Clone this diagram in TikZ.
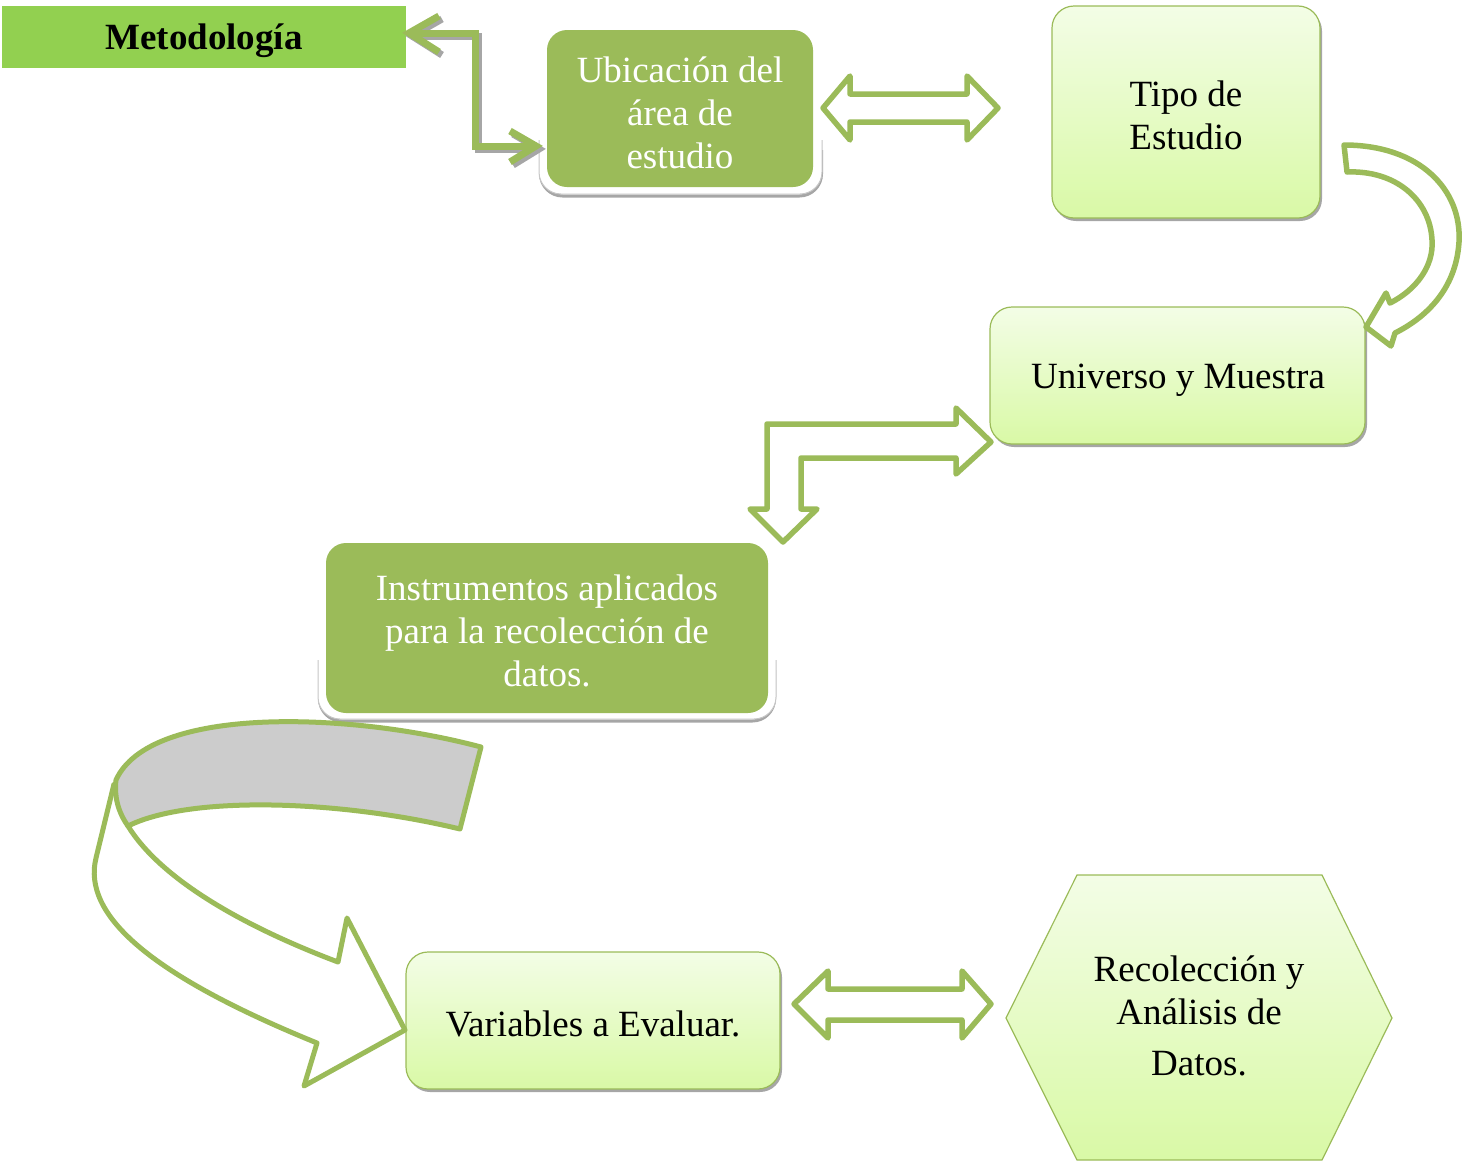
\documentclass[tikz,border=0pt]{standalone}
\usepackage{fontspec}
\setmainfont{Liberation Serif}
\usetikzlibrary{shadows}
\definecolor{olive}{HTML}{9BBB59}
\definecolor{brightgreen}{HTML}{92D050}
\definecolor{lgtop}{HTML}{F3FDE6}
\definecolor{lgbot}{HTML}{D9F9A6}
\definecolor{shadowgray}{HTML}{A6A6A6}
\definecolor{bandgray}{HTML}{CCCCCC}
\begin{document}
\begin{tikzpicture}[x=1pt,y=-1pt, font=\fontsize{37}{43}\selectfont,
  lightbox/.style={rounded corners=22pt, draw=olive, line width=1.2pt, top color=lgtop, bottom color=lgbot,
    inner sep=0pt, drop shadow={shadow xshift=2pt, shadow yshift=-3pt, fill=shadowgray, opacity=1}},
  darkbox/.style={rounded corners=20pt, fill=olive, inner sep=0pt},
  backline/.style={rounded corners=22pt, draw=gray!45, line width=1pt},
  backshadow/.style={rounded corners=22pt, draw=shadowgray, line width=3pt},
  boxtext/.style={align=center, inner sep=0pt},
  blockarrow/.style={draw=olive, fill=white, line width=5.5pt, line join=round},
  elbow/.style={draw=olive, line width=7pt, line join=miter},
  elbowshadow/.style={draw=shadowgray, line width=7pt, line join=miter}]
\useasboundingbox (0,0) rectangle (1469,1162);

% Metodologia
\node[fill=brightgreen, minimum width=404pt, minimum height=62pt, inner sep=0pt] (met) at (204,37) {};
\node[boxtext, font=\fontsize{37}{43}\selectfont\bfseries] (mettext) at (204,41) {Metodología};

% Ubicacion
\draw[backshadow] (540.5,150) -- (540.5,196) -- (821.5,196) -- (821.5,150);
\draw[backline, fill=white] (539,140) -- (539,194) -- (822,194) -- (822,140);
\node[darkbox, minimum width=266pt, minimum height=157pt] (ubi) at (680,108.5) {};
\node[boxtext, text=white] (ubitext) at (680,113) {Ubicación del\\área de\\estudio};

% Tipo de estudio
\node[lightbox, minimum width=268pt, minimum height=212pt] (tipo) at (1186,112) {};
\node[boxtext] (tipotext) at (1186,115) {Tipo de\\Estudio};

% Universo y Muestra
\node[lightbox, minimum width=375pt, minimum height=137pt] (uni) at (1177.5,375.5) {};
\node[boxtext] (unitext) at (1178,380) {Universo y Muestra};

% Instrumentos
\draw[backshadow] (319.5,670) -- (319.5,721) -- (774.5,721) -- (774.5,670);
\draw[backline, fill=white] (318,660) -- (318,719) -- (776,719) -- (776,660);
\node[darkbox, minimum width=442pt, minimum height=170pt] (ins) at (547,628) {};
\node[boxtext, text=white] (instext) at (547,631) {Instrumentos aplicados\\para la recolección de\\datos.};

% Variables
\node[lightbox, minimum width=374pt, minimum height=137pt] (var) at (593,1020.5) {};
\node[boxtext] (vartext) at (593,1024) {Variables a Evaluar.};

% Hexagon
\path[draw=olive, line width=1.2pt, top color=lgtop, bottom color=lgbot]
  (1006,1018) -- (1077,875) -- (1322,875) -- (1392,1018) -- (1322,1160) -- (1077,1160) -- cycle;
\node[boxtext] (hex) at (1199,1016) {Recolección y\\Análisis de\\[8pt]Datos.};

% Elbow double arrow Metodologia <-> Ubicacion
\begin{scope}[shift={(3,3)}]
\draw[elbowshadow] (408,33) -- (475,33) -- (475,146) -- (535,146);
\draw[elbowshadow] (439,16) -- (409,33) -- (439,52);
\draw[elbowshadow] (510,131) -- (536,146) -- (510,162);
\end{scope}
\draw[elbow] (408,33) -- (475,33) -- (475,146) -- (535,146);
\draw[elbow] (439,16) -- (409,33) -- (439,52);
\draw[elbow] (510,131) -- (536,146) -- (510,162);

% Double block arrow Ubicacion <-> Tipo
\draw[blockarrow] (823,108) -- (850,76) -- (850,94) -- (967,94) -- (967,76) -- (998,108) -- (967,140) -- (967,122) -- (850,122) -- (850,140) -- cycle;

% Curved arrow Tipo -> Universo
\draw[blockarrow] (1344,145) .. controls (1420,145) and (1462,190) .. (1459,242)
  .. controls (1456,290) and (1425,318) .. (1395,333)
  -- (1391,346) -- (1366,327) -- (1386,293) -- (1390,303)
  .. controls (1416,290) and (1434,266) .. (1432,240)
  .. controls (1430,200) and (1396,170) .. (1347,172) -- cycle;

% Bent arrow Universo -> Instrumentos
\draw[blockarrow] (767,424) -- (956,424) -- (956,408) -- (991,442) -- (956,474) -- (956,458) -- (801,458) -- (801,509) -- (817,509) -- (783,542) -- (750,509) -- (767,509) -- cycle;

% Big curved arrow Instrumentos -> Variables
\draw[blockarrow, line width=5pt] (114,784) -- (96,858) .. controls (82,915) and (150,975) .. (317,1043)
  -- (304,1086) -- (405,1030) -- (347,918) -- (338,962)
  .. controls (240,925) and (160,878) .. (128,826) -- cycle;
\draw[draw=olive, fill=bandgray, line width=5pt, line join=round]
  (116,780) .. controls (150,705) and (350,712) .. (481,747) -- (460,829)
  .. controls (340,800) and (190,795) .. (128,826)
  .. controls (118,812) and (114,796) .. (116,780) -- cycle;

% Double block arrow Variables <-> Recoleccion
\draw[blockarrow] (794,1004) -- (828,971) -- (828,989) -- (962,989) -- (962,971) -- (991,1004) -- (962,1038) -- (962,1020) -- (828,1020) -- (828,1038) -- cycle;
\end{tikzpicture}
\end{document}
